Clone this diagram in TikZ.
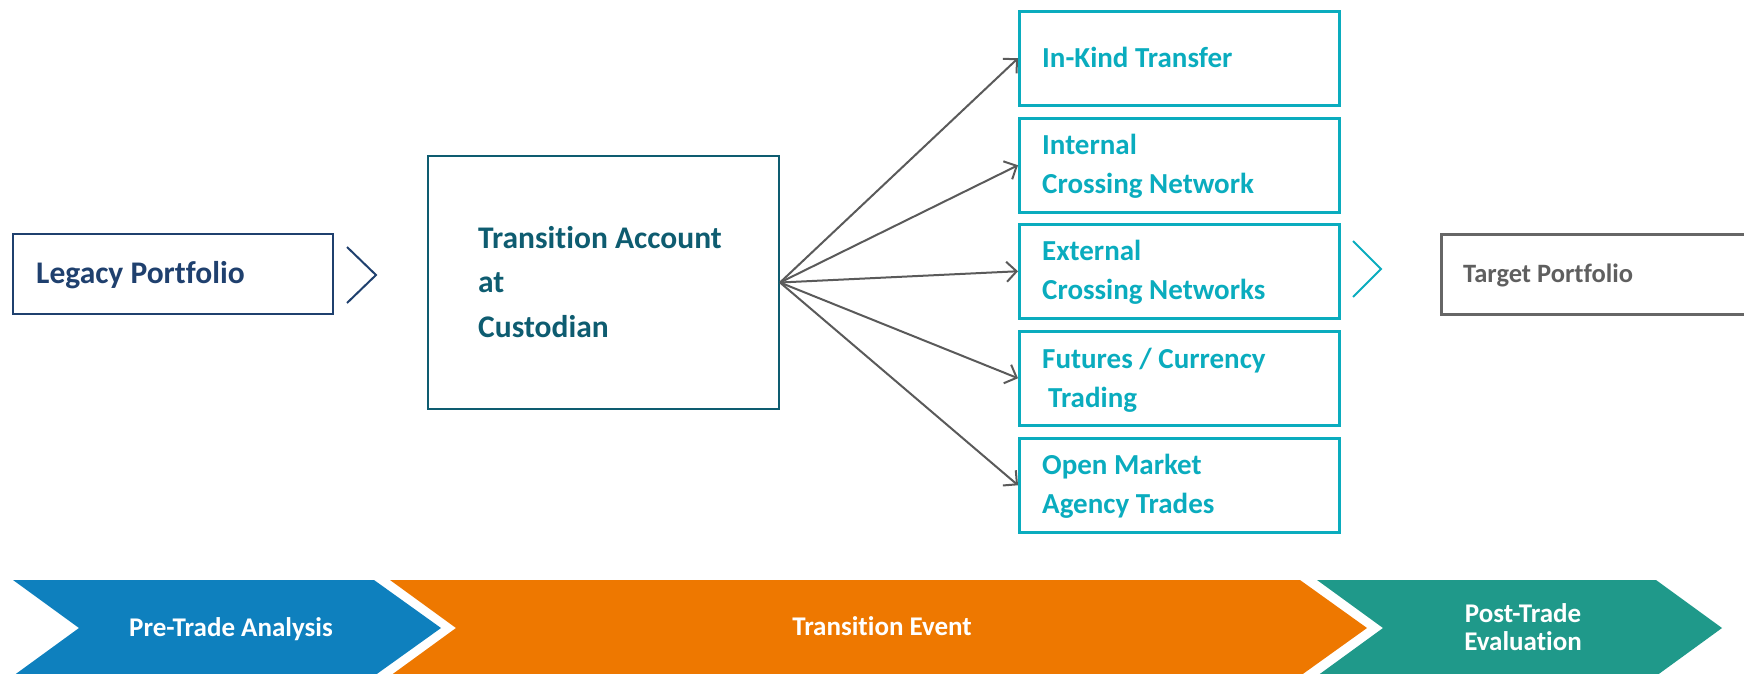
\documentclass[tikz,border=0pt]{standalone}
\usepackage{fontspec}
\setmainfont{Carlito}[Ligatures=NoCommon]
\usetikzlibrary{arrows.meta}
\definecolor{navy}{RGB}{31,64,110}
\definecolor{dteal}{RGB}{14,92,112}
\definecolor{cyanbox}{RGB}{10,172,190}
\definecolor{graybox}{RGB}{102,102,102}
\definecolor{graytext}{RGB}{95,95,95}
\definecolor{arrowgray}{RGB}{90,90,90}
\definecolor{pblue}{RGB}{14,128,190}
\definecolor{porange}{RGB}{238,120,0}
\definecolor{pteal}{RGB}{31,153,138}
\tikzset{
  boxnode/.style={draw, rectangle, inner sep=0pt, anchor=north west},
  optbox/.style={boxnode, draw=cyanbox, line width=2.5pt, minimum width=320pt, minimum height=94pt},
  optlabel/.style={anchor=base west, inner sep=0pt, align=left, text=cyanbox,
     font=\fontsize{29}{39}\selectfont\bfseries},
  flow/.style={draw=arrowgray, line width=2pt, -{Straight Barb[length=10pt,width=20pt,line width=2pt]}},
  phase/.style={inner sep=0pt, text=white, align=center, font=\fontsize{27}{28}\selectfont\bfseries},
}
\begin{document}
\begin{tikzpicture}[x=1pt,y=-1pt]
\useasboundingbox (0,0) rectangle (1744,673);
% legacy
\node[boxnode, draw=navy, line width=2pt, minimum width=320pt, minimum height=80pt] (legacy) at (12,233) {};
\node[anchor=base west, inner sep=0pt, text=navy, font=\fontsize{31.5}{34}\selectfont\bfseries] (legacyt) at (36,283) {Legacy Portfolio};
\draw[navy, line width=2pt] (347,247) -- (376,275) -- (347,303);
% transition account
\node[boxnode, draw=dteal, line width=2pt, minimum width=351pt, minimum height=253pt] (trans) at (427,155) {};
\node[anchor=base west, inner sep=0pt, align=left, text=dteal, font=\fontsize{31.5}{44.5}\selectfont\bfseries] (transt) at (478,337) {Transition Account\\at\\Custodian};
% options
\node[optbox] (o1) at (1018,10) {};
\node[optbox] (o2) at (1018,117) {};
\node[optbox] (o3) at (1018,223) {};
\node[optbox] (o4) at (1018,330) {};
\node[optbox] (o5) at (1018,437) {};
\node[optlabel] (o1t) at (1042,67) {In-Kind Transfer};
\node[optlabel] (o2t) at (1042,193) {Internal\\Crossing Network};
\node[optlabel] (o3t) at (1042,299) {External\\Crossing Networks};
\node[optlabel] (o4t) at (1042,407) {Futures / Currency\\\hspace*{6pt}Trading};
\node[optlabel] (o5t) at (1042,513) {Open Market\\Agency Trades};
\foreach \o in {o1,o2,o3,o4,o5} \draw[flow] (trans.east) -- (\o.west);
\draw[cyanbox, line width=2pt] (1353,241) -- (1381,269) -- (1353,297);
% target
\node[boxnode, draw=graybox, line width=2.5pt, minimum width=340pt, minimum height=80pt] (target) at (1440,233) {};
\node[anchor=base west, inner sep=0pt, text=graytext, font=\fontsize{26.5}{28}\selectfont\bfseries] (targett) at (1463,282) {Target Portfolio};
% phases
\fill[pblue] (13,580) -- (374,580) -- (441,628) -- (374,676) -- (13,676) -- (79,628) -- cycle;
\fill[porange] (390,580) -- (1300,580) -- (1367,628) -- (1300,676) -- (390,676) -- (456,628) -- cycle;
\fill[pteal] (1317,580) -- (1656,580) -- (1722,628) -- (1656,676) -- (1317,676) -- (1383,628) -- cycle;
\node[phase, anchor=base] (p1) at (231,636) {Pre-Trade Analysis};
\node[phase, anchor=base] (p2) at (882,635) {Transition Event};
\node[phase, anchor=base] (p3a) at (1523,622) {Post-Trade};
\node[phase, anchor=base] (p3b) at (1523,650) {Evaluation};
\end{tikzpicture}
\end{document}
